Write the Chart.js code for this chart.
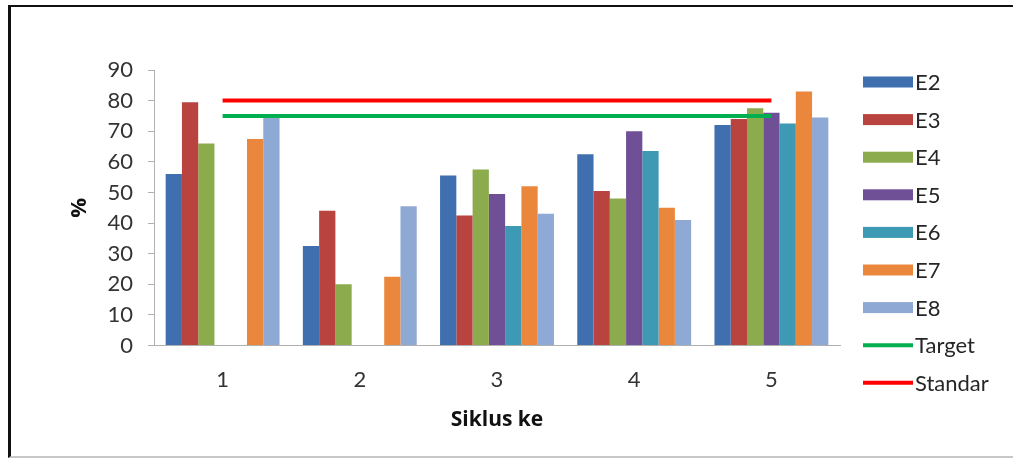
<!DOCTYPE html>
<html>
<head>
<meta charset="utf-8">
<script src="https://cdn.jsdelivr.net/npm/chart.js@4.4.1/dist/chart.umd.min.js"></script>
<style>
  html, body { margin: 0; padding: 0; background: #ffffff; }
  #wrap { position: relative; width: 1013px; height: 458px; overflow: hidden; }
  #frame {
    position: absolute; left: 8px; top: 5px; width: 1020px; height: 449px;
    border-left: 3px solid #111; border-top: 2px solid #111; border-bottom: 2px solid #c8c8c8;
    pointer-events: none;
  }
  canvas { position: absolute; left: 0; top: 0; }
</style>
</head>
<body>
<div id="wrap">
  <canvas id="chart" width="1013" height="458"></canvas>
  <div id="frame"></div>
</div>
<script>
// Cycle numbers on the x axis
const categories = ['1', '2', '3', '4', '5'];

// Percent per cycle for each group
const e2 = [56, 32.5, 55.5, 62.5, 72];
const e3 = [79.5, 44, 42.5, 50.5, 74];
const e4 = [66, 20, 57.5, 48, 77.5];
const e5 = [0, 0, 49.5, 70, 76];
const e6 = [0, 0, 39, 63.5, 72.5];
const e7 = [67.5, 22.5, 52, 45, 83];
const e8 = [74.5, 45.5, 43, 41, 74.5];

// Reference levels
const target = [75, 75, 75, 75, 75];
const standar = [80, 80, 80, 80, 80];

// Y axis ticks
const yTicks = [0, 10, 20, 30, 40, 50, 60, 70, 80, 90];

const seriesNames = ['E2', 'E3', 'E4', 'E5', 'E6', 'E7', 'E8'];
const seriesValues = [e2, e3, e4, e5, e6, e7, e8];
const seriesColors = ['#3f6fae', '#b8433f', '#8bab4c', '#6f5097', '#3e9ab4', '#ea873c', '#8fa9d5'];

Chart.defaults.font.family = 'Lato, "Liberation Sans", sans-serif';

const barSets = seriesNames.map((name, i) => ({
  type: 'bar',
  label: name,
  data: seriesValues[i],
  backgroundColor: seriesColors[i],
  borderWidth: 0,
  categoryPercentage: 0.83,
  barPercentage: 1.0,
  order: 2
}));

const lineSets = [
  { type: 'line', label: 'Target', data: target, borderColor: '#00b050', backgroundColor: '#00b050',
    borderWidth: 4, pointRadius: 0, fill: false, order: 1 },
  { type: 'line', label: 'Standar', data: standar, borderColor: '#ff0000', backgroundColor: '#ff0000',
    borderWidth: 4, pointRadius: 0, fill: false, order: 1 }
];

// Legend drawn at the right side: boxes for bars, strokes for lines
const sideLegend = {
  id: 'sideLegend',
  afterDraw(chart) {
    const ctx = chart.ctx;
    const x0 = 863, w = 50, tx = 915, y0 = 82, step = 37.6;
    ctx.save();
    ctx.font = '22px Lato, "Liberation Sans", sans-serif';
    ctx.textBaseline = 'middle';
    ctx.textAlign = 'left';
    chart.data.datasets.forEach((ds, i) => {
      const y = y0 + i * step;
      if (ds.type === 'line') {
        ctx.strokeStyle = ds.borderColor;
        ctx.lineWidth = ds.borderWidth;
        ctx.beginPath();
        ctx.moveTo(x0, y);
        ctx.lineTo(x0 + w, y);
        ctx.stroke();
      } else {
        ctx.fillStyle = ds.backgroundColor;
        ctx.fillRect(x0, y - 5.5, w, 11);
      }
      ctx.fillStyle = '#262626';
      ctx.fillText(ds.label, tx, y + 1);
    });
    ctx.restore();
  }
};

new Chart(document.getElementById('chart'), {
  data: { labels: categories, datasets: barSets.concat(lineSets) },
  options: {
    responsive: false,
    animation: false,
    layout: { padding: { left: 0, right: 173, top: 70, bottom: 0 } },
    plugins: { legend: { display: false }, tooltip: { enabled: false } },
    scales: {
      x: {
        grid: { display: false, drawTicks: true, tickLength: 8 },
        border: { display: true, color: '#b0b0b0', width: 1 },
        ticks: { color: '#333333', font: { size: 22 }, padding: 13 },
        title: {
          display: true, text: 'Siklus ke', color: '#111111',
          font: { family: '"Open Sans", Lato, sans-serif', size: 21, weight: 'bold' },
          padding: { top: 0, bottom: 25 }
        },
        afterFit(scale) { scale.height = 112.5; }
      },
      y: {
        min: 0, max: 90,
        afterBuildTicks(scale) { scale.ticks = yTicks.map(v => ({ value: v })); },
        grid: { display: true, drawOnChartArea: false, drawTicks: true, tickLength: 6, color: '#b0b0b0' },
        border: { display: true, color: '#b0b0b0', width: 1 },
        ticks: { color: '#333333', font: { size: 22 }, padding: 15 },
        title: {
          display: true, text: '%', color: '#111111',
          font: { family: '"Open Sans", Lato, sans-serif', size: 22, weight: 'bold' },
          padding: { top: 67, bottom: 10 }
        },
        afterFit(scale) { scale.width = 154; }
      }
    }
  },
  plugins: [sideLegend]
});
</script>
</body>
</html>
